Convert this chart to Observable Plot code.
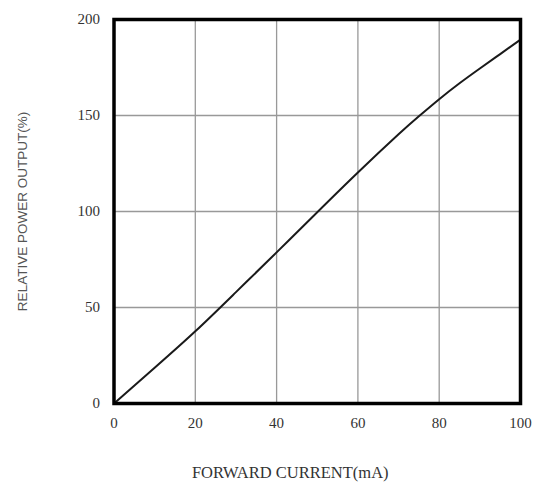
<!DOCTYPE html>
<html>
<head>
<meta charset="utf-8">
<script src="https://cdn.jsdelivr.net/npm/d3@7"></script>
<script src="https://cdn.jsdelivr.net/npm/@observablehq/plot@0.6"></script>
<style>
  html, body { margin: 0; padding: 0; background: #fff; }
</style>
</head>
<body>
<div id="chart"></div>
<script>
const current = [0, 10, 20, 30, 40, 50, 60, 70, 75, 80, 85, 90, 95, 100];
const power   = [0, 18.6, 37.6, 58, 78.7, 99.6, 120.3, 140.2, 149.6, 158.5, 166.8, 174.5, 182, 189.5];
const xTicks = [0, 20, 40, 60, 80, 100];
const yTicks = [0, 50, 100, 150, 200];
const xLabel = "FORWARD CURRENT(mA)";
const yLabel = "RELATIVE POWER OUTPUT(%)";

const data = current.map((c, i) => ({current: c, power: power[i]}));
const serif = "'Liberation Serif', 'DejaVu Serif', serif";

const chart = Plot.plot({
  width: 544,
  height: 491,
  marginLeft: 113.5,
  marginRight: 24,
  marginTop: 19,
  marginBottom: 88,
  style: {fontFamily: serif, fontSize: "15px", color: "#333", background: "#fff"},
  x: {domain: [0, 100], ticks: xTicks, label: null},
  y: {domain: [0, 200], ticks: yTicks, label: null},
  marks: [
    Plot.gridX(xTicks.slice(1, -1), {stroke: "#999", strokeOpacity: 1, strokeWidth: 1.3}),
    Plot.gridY(yTicks.slice(1, -1), {stroke: "#999", strokeOpacity: 1, strokeWidth: 1.3}),
    Plot.axisX(xTicks, {tickSize: 0, tickPadding: 14, fontSize: 15, fontFamily: serif, fill: "#333"}),
    Plot.axisY(yTicks, {tickSize: 0, tickPadding: 14, fontSize: 15, fontFamily: serif, fill: "#333"}),
    Plot.line(data, {x: "current", y: "power", stroke: "#1a1a1a", strokeWidth: 2, curve: "natural"}),
    Plot.frame({stroke: "#000", strokeWidth: 3.5}),
    Plot.text([xLabel], {frameAnchor: "bottom", text: d => d, dx: -27, dy: 74, fontSize: 16.5, fill: "#333",
      fontFamily: serif, textAnchor: "middle"}),
    Plot.text([yLabel], {frameAnchor: "left", text: d => d, rotate: -90, dx: -91.5, fontSize: 13.5, fill: "#555",
      fontFamily: "'Liberation Sans', Arial, sans-serif", textAnchor: "middle"})
  ]
});
document.getElementById("chart").appendChild(chart);
</script>
</body>
</html>
